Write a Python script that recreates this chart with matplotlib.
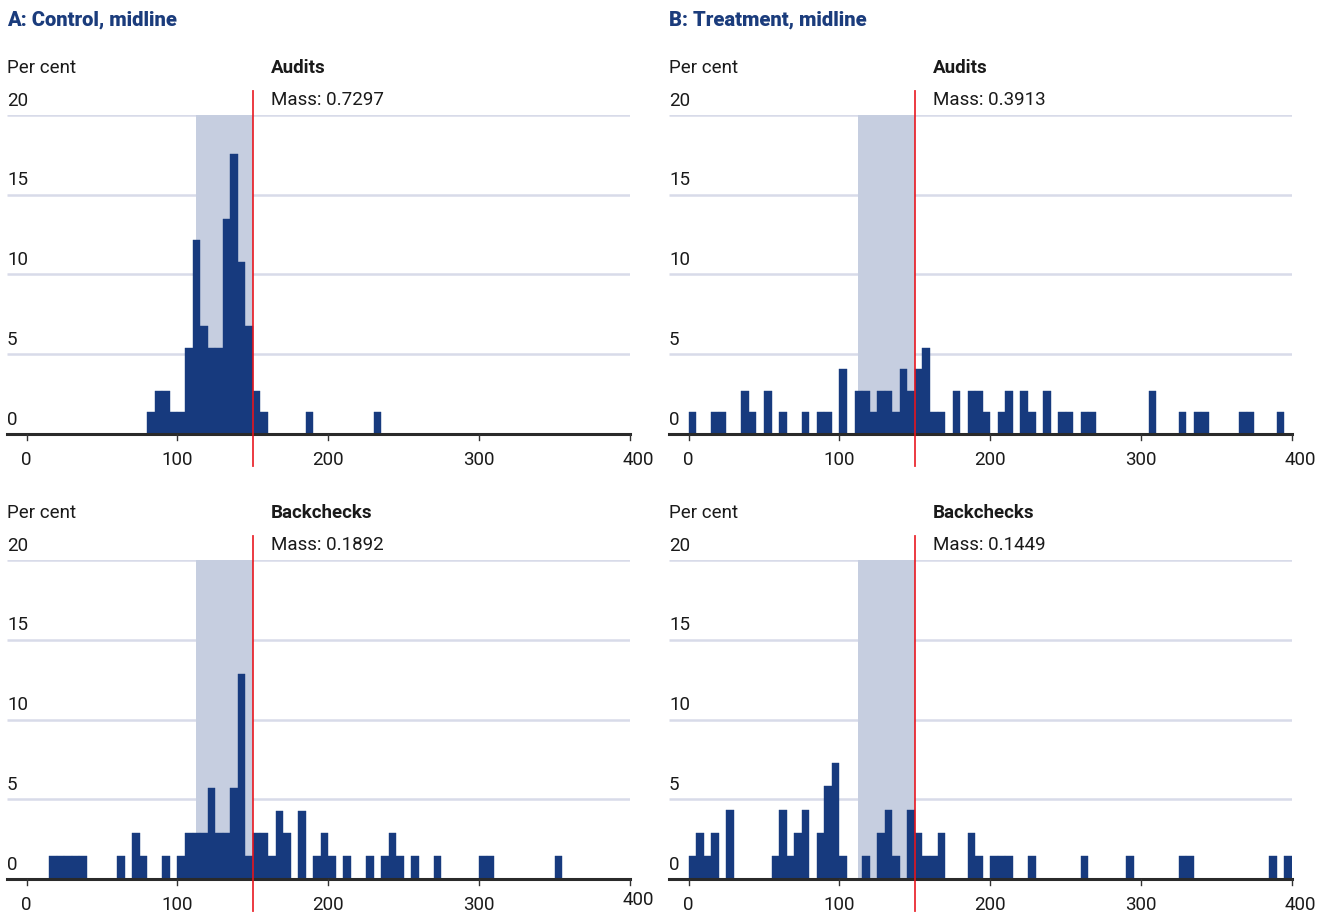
import matplotlib.pyplot as plt
from matplotlib.transforms import blended_transform_factory

BIN_WIDTH = 5
X_TICKS = [0, 100, 200, 300, 400]
Y_TICKS = [0, 5, 10, 15, 20]
BAND = (112.5, 150)
THRESHOLD = 150

# bin left edges and share of observations, per cent
control_audit_bins = [80, 85, 90, 95, 100, 105, 110, 115, 120, 125, 130, 135, 140, 145, 150, 155, 185, 230]
control_audit_pct = [1.35, 2.70, 2.70, 1.35, 1.35, 5.41, 12.16, 6.76, 5.41, 5.41, 13.51, 17.57,
                     10.81, 6.76, 2.70, 1.35, 1.35, 1.35]

treat_audit_bins = [0, 15, 20, 35, 40, 50, 60, 75, 85, 90, 100, 110, 115, 120, 125, 130, 135, 140,
                    145, 150, 155, 160, 165, 175, 185, 190, 195, 205, 210, 220, 225, 235, 245, 250,
                    260, 265, 305, 325, 335, 340, 365, 370, 390]
treat_audit_pct = [1.35, 1.35, 1.35, 2.70, 1.35, 2.70, 1.35, 1.35, 1.35, 1.35, 4.05, 2.70, 2.70, 1.35,
                   2.70, 2.70, 1.35, 4.05, 2.70, 4.05, 5.41, 1.35, 1.35, 2.70, 2.70, 2.70, 1.35, 1.35,
                   2.70, 2.70, 1.35, 2.70, 1.35, 1.35, 1.35, 1.35, 2.70, 1.35, 1.35, 1.35, 1.35, 1.35,
                   1.35]

control_back_bins = [15, 20, 25, 30, 35, 60, 70, 75, 90, 100, 105, 110, 115, 120, 125, 130, 135, 140,
                     145, 150, 155, 160, 165, 170, 180, 190, 195, 200, 210, 225, 235, 240, 245, 255,
                     270, 300, 305, 350]
control_back_pct = [1.43, 1.43, 1.43, 1.43, 1.43, 1.43, 2.86, 1.43, 1.43, 1.43, 2.86, 2.86, 2.86, 5.71,
                    2.86, 2.86, 5.71, 12.86, 1.43, 2.86, 2.86, 1.43, 4.29, 2.86, 4.29, 1.43, 2.86, 1.43,
                    1.43, 1.43, 1.43, 2.86, 1.43, 1.43, 1.43, 1.43, 1.43, 1.43]

treat_back_bins = [0, 5, 10, 15, 25, 55, 60, 65, 70, 75, 85, 90, 95, 100, 115, 125, 130, 135, 145,
                   150, 155, 160, 165, 185, 190, 200, 205, 210, 225, 260, 290, 325, 330, 385, 395]
treat_back_pct = [1.45, 2.90, 1.45, 2.90, 4.35, 1.45, 4.35, 1.45, 2.90, 4.35, 2.90, 5.80, 7.25, 1.45,
                  1.45, 2.90, 4.35, 1.45, 4.35, 2.90, 1.45, 1.45, 2.90, 2.90, 1.45, 1.45, 1.45, 1.45,
                  1.45, 1.45, 1.45, 1.45, 1.45, 1.45, 1.45]

panel_titles = ["A: Control, midline", "B: Treatment, midline"]
row_labels = ["Audits", "Backchecks"]
masses = [["0.7297", "0.3913"], ["0.1892", "0.1449"]]

BAR_COLOR = "#173a7e"
BAND_COLOR = "#c6cee0"
GRID_COLOR = "#d8dbe9"
RED = "#e8141c"
TITLE_COLOR = "#1b3c7c"
TEXT_COLOR = "#1a1a1a"
FONT_SIZE = 13.5

W, H = 1331, 914


def draw_panel(fig, left_px, right_px, top_px, bottom_px, bins, pct, label, mass, last_dy=1.63):
    ax = fig.add_axes([left_px / W, 1 - bottom_px / H, (right_px - left_px) / W, (bottom_px - top_px) / H])
    ax.set_xlim(-13, 400)
    ax.set_ylim(0, 20)
    for side in ax.spines.values():
        side.set_visible(False)
    ax.set_xticks([])
    ax.set_yticks([])
    ax.patch.set_alpha(0)

    ax.hlines(Y_TICKS[1:], -13, 400, color=GRID_COLOR, lw=1.8, zorder=1)
    ax.axvspan(*BAND, color=BAND_COLOR, lw=0, zorder=1.5)
    ax.bar(bins, pct, width=BIN_WIDTH, align="edge", color=BAR_COLOR, edgecolor=BAR_COLOR,
           linewidth=0.3, zorder=2)
    ax.axhline(0, color="#2a2a2a", lw=2.2, zorder=3, clip_on=False)
    ax.plot([THRESHOLD, THRESHOLD], [-2.0, 21.5], color=RED, lw=1.3, alpha=0.9, zorder=4, clip_on=False)

    # x ticks and labels drawn by hand so the last label can sit off-centre like the original
    for v in X_TICKS:
        ax.plot([v, v], [0, -0.35], color="#333333", lw=1, clip_on=False, zorder=3)
        dx, dy = (5.3, last_dy) if v == 400 else (0, 1.65)
        ax.text(v + dx, -dy, str(v), ha="center", va="center", fontsize=FONT_SIZE,
                color=TEXT_COLOR, clip_on=False)

    blend = blended_transform_factory(ax.transAxes, ax.transData)
    for v in Y_TICKS:
        ax.text(0, v + 0.9, str(v), transform=blend, ha="left", va="center", fontsize=FONT_SIZE,
                color=TEXT_COLOR)
    ax.text(0, 22.95, "Per cent", transform=blend, ha="left", va="center", fontsize=FONT_SIZE,
            color=TEXT_COLOR)
    ax.text(162, 22.95, label, ha="left", va="center", fontsize=FONT_SIZE, fontweight="bold",
            color=TEXT_COLOR)
    ax.text(162, 20.94, f"Mass: {mass}", ha="left", va="center", fontsize=FONT_SIZE, color=TEXT_COLOR)
    return ax


def main() -> None:
    plt.rcParams["font.family"] = ["Roboto", "DejaVu Sans"]
    fig = plt.figure(figsize=(W / 100, H / 100), dpi=100)

    data = [
        [(control_audit_bins, control_audit_pct), (treat_audit_bins, treat_audit_pct)],
        [(control_back_bins, control_back_pct), (treat_back_bins, treat_back_pct)],
    ]
    lefts = [(7, 630), (669, 1292)]
    rows = [(115, 434), (560, 879)]

    for r, (top, bottom) in enumerate(rows):
        for c, (left, right) in enumerate(lefts):
            bins, pct = data[r][c]
            last_dy = 1.32 if (r == 1 and c == 0) else 1.65
            draw_panel(fig, left, right, top, bottom, bins, pct, row_labels[r], masses[r][c], last_dy)

    for c, (left, _) in enumerate(lefts):
        fig.text(left / W, 1 - 20 / H, panel_titles[c], ha="left", va="center", fontsize=14.5,
                 fontweight="black", color=TITLE_COLOR)

    fig.savefig("out.png", dpi=100)
    plt.close(fig)


if __name__ == "__main__":
    main()
